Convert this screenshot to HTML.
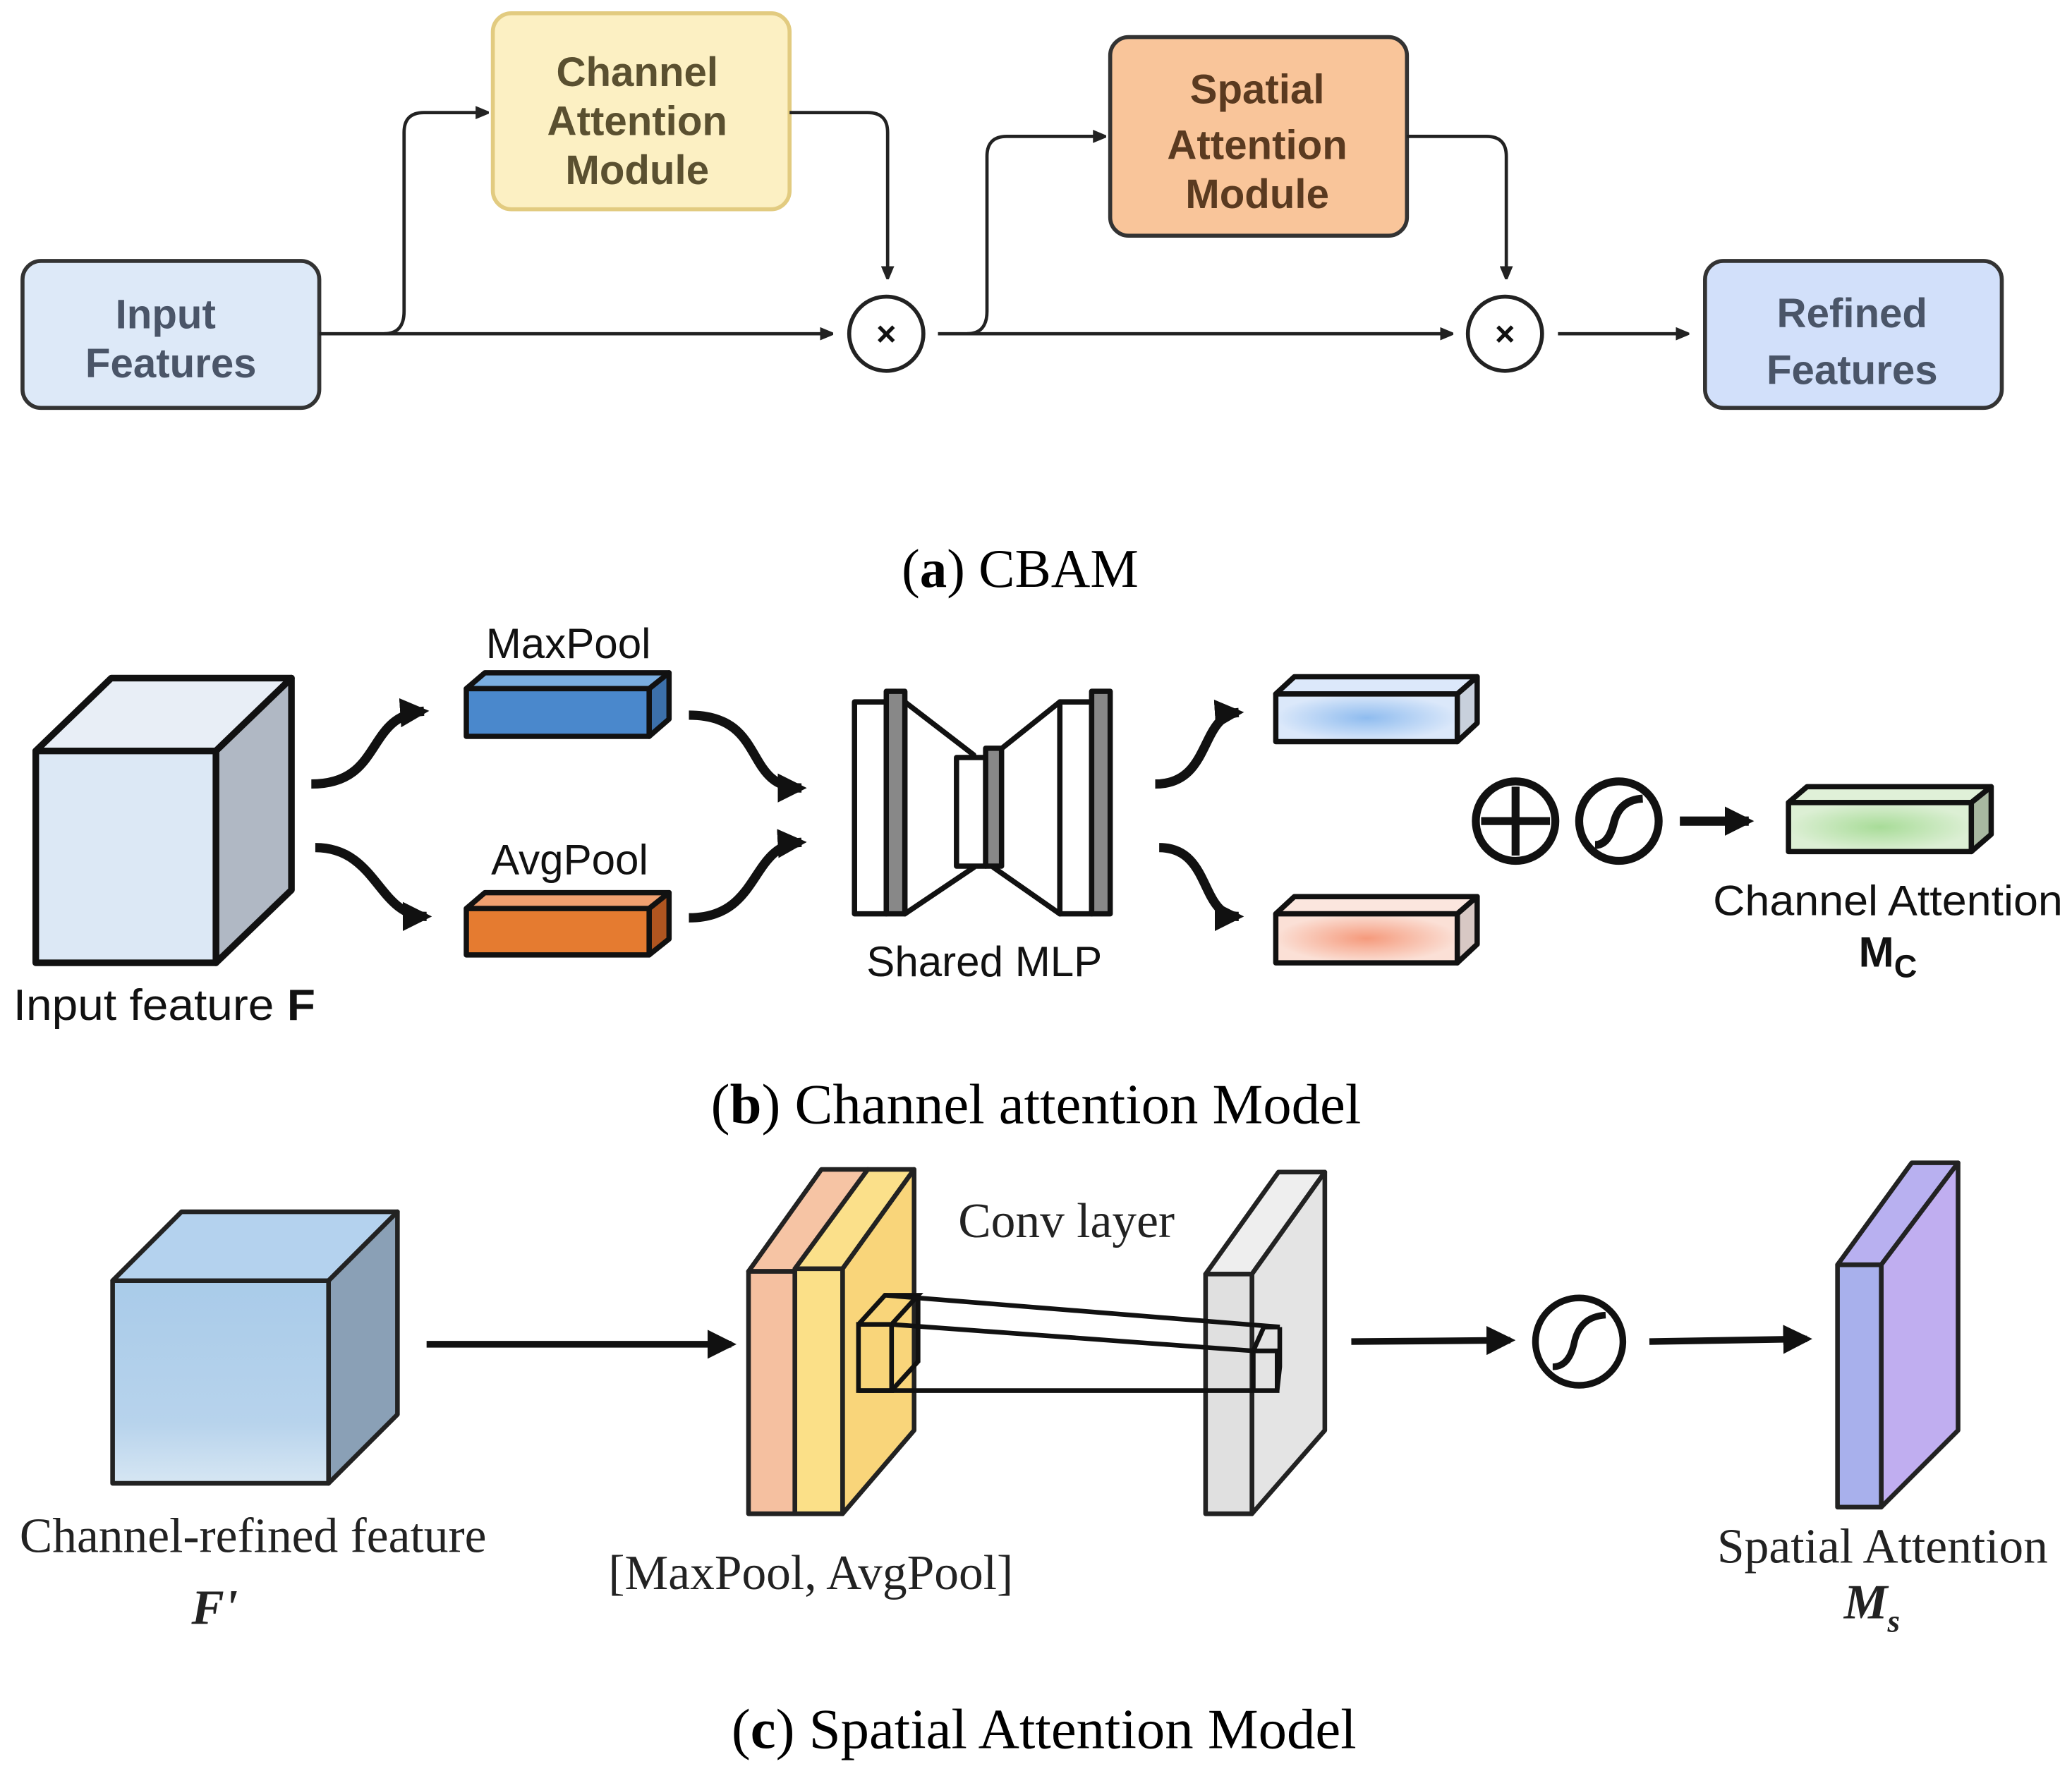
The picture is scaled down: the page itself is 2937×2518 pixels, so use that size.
<!DOCTYPE html>
<html><head><meta charset="utf-8"><style>
html,body{margin:0;padding:0;background:#fff;}
svg{display:block;}
.sans{font-family:"Liberation Sans","DejaVu Sans",sans-serif;}
.serif{font-family:"Liberation Serif","DejaVu Serif",serif;}
</style></head><body>
<svg width="2937" height="2518" viewBox="0 0 1564 1341" preserveAspectRatio="none" xmlns="http://www.w3.org/2000/svg">
<defs>
<marker id="a" markerWidth="10" markerHeight="10" refX="9" refY="5" orient="auto" markerUnits="userSpaceOnUse"><path d="M0,0 L12,5 L0,10 z" fill="#222"/></marker>
<marker id="b" markerWidth="22" markerHeight="22" refX="18" refY="11" orient="auto" markerUnits="userSpaceOnUse"><path d="M0,0 L22,11 L0,22 z" fill="#111"/></marker>
<linearGradient id="cf" x1="0" y1="0" x2="0" y2="1"><stop offset="0" stop-color="#a9cbe9"/><stop offset="0.7" stop-color="#b7d3ec"/><stop offset="1" stop-color="#d6e6f3"/></linearGradient>
<radialGradient id="lb"><stop offset="0" stop-color="#8fbcef"/><stop offset="1" stop-color="#dbe8fa"/></radialGradient>
<radialGradient id="lp"><stop offset="0" stop-color="#f59a7c"/><stop offset="1" stop-color="#fbe0d6"/></radialGradient>
<radialGradient id="lg"><stop offset="0" stop-color="#a8dc98"/><stop offset="1" stop-color="#dcefd4"/></radialGradient>
</defs>

<!-- (a) -->
<g class="sans" font-weight="bold" font-size="31" text-anchor="middle">
<rect x="17" y="197" width="224" height="111" rx="14" fill="#dde9f8" stroke="#333" stroke-width="3"/>
<text x="125" y="248" fill="#4a5568">Input</text><text x="129" y="285" fill="#4a5568">Features</text>
<rect x="372" y="10" width="224" height="148" rx="14" fill="#fcf0c3" stroke="#e2cb80" stroke-width="3"/>
<text x="481" y="65" fill="#5a5030">Channel</text><text x="481" y="102" fill="#5a5030">Attention</text><text x="481" y="139" fill="#5a5030">Module</text>
<rect x="838" y="28" width="224" height="150" rx="14" fill="#f9c59a" stroke="#333" stroke-width="3"/>
<text x="949" y="78" fill="#5a3a20">Spatial</text><text x="949" y="120" fill="#5a3a20">Attention</text><text x="949" y="157" fill="#5a3a20">Module</text>
<rect x="1287" y="197" width="224" height="111" rx="14" fill="#d2e0fa" stroke="#333" stroke-width="3"/>
<text x="1398" y="247" fill="#4a5568">Refined</text><text x="1398" y="290" fill="#4a5568">Features</text>
</g>
<g fill="none" stroke="#222" stroke-width="2.5">
<path d="M241 252 L628 252" marker-end="url(#a)"/>
<path d="M290 252 Q305 252 305 235 L305 100 Q305 85 320 85 L368 85" marker-end="url(#a)"/>
<path d="M596 85 L655 85 Q670 85 670 100 L670 210" marker-end="url(#a)"/>
<circle cx="669" cy="252" r="28" stroke-width="3"/>
<path d="M708 252 L1096 252" marker-end="url(#a)"/>
<path d="M730 252 Q745 252 745 235 L745 118 Q745 103 760 103 L834 103" marker-end="url(#a)"/>
<path d="M1062 103 L1122 103 Q1137 103 1137 118 L1137 210" marker-end="url(#a)"/>
<circle cx="1136" cy="252" r="28" stroke-width="3"/>
<path d="M1176 252 L1274 252" marker-end="url(#a)"/>
</g>
<g class="sans" font-weight="bold" font-size="26" text-anchor="middle" fill="#111"><text x="669" y="261">×</text><text x="1136" y="261">×</text></g>
<text class="serif" x="770" y="443" font-size="41" text-anchor="middle">(<tspan font-weight="bold">a</tspan>) CBAM</text>

<!-- (b) -->
<g stroke="#111" stroke-width="5" stroke-linejoin="round">
<polygon points="27,567 84,512 220,512 163,567" fill="#e8eef6"/>
<polygon points="163,567 220,512 220,672 163,727" fill="#b0b8c4"/>
<rect x="27" y="567" width="136" height="160" fill="#dce8f5"/>
</g>
<text class="sans" x="10" y="770" font-size="33" fill="#111" textLength="228" lengthAdjust="spacingAndGlyphs">Input feature <tspan font-weight="bold">F</tspan></text>

<g stroke="#111" stroke-width="4" stroke-linejoin="round">
<polygon points="352,520 366,508 505,508 490,520" fill="#7aaee0"/><polygon points="490,520 505,508 505,543 490,556" fill="#3c70aa"/><rect x="352" y="520" width="138" height="36" fill="#4a88cc"/>
<polygon points="352,686 366,674 505,674 490,686" fill="#f0a070"/><polygon points="490,686 505,674 505,709 490,721" fill="#b05520"/><rect x="352" y="686" width="138" height="35" fill="#e57b30"/>
<polygon points="963,524 977,511 1115,511 1100,524" fill="#dce8fa"/><polygon points="1100,524 1115,511 1115,546 1100,560" fill="#c8d0dc"/><rect x="963" y="524" width="137" height="36" fill="url(#lb)"/>
<polygon points="963,690 977,677 1115,677 1100,690" fill="#fbe6de"/><polygon points="1100,690 1115,677 1115,713 1100,727" fill="#d8c8c4"/><rect x="963" y="690" width="137" height="37" fill="url(#lp)"/>
<polygon points="1350,606 1364,594 1503,594 1488,606" fill="#e0f0d8"/><polygon points="1488,606 1503,594 1503,630 1488,643" fill="#a8b8a0"/><rect x="1350" y="606" width="138" height="37" fill="url(#lg)"/>
</g>
<g class="sans" font-size="32" fill="#111" text-anchor="middle">
<text x="429" y="497">MaxPool</text><text x="430" y="660">AvgPool</text><text x="743" y="737">Shared MLP</text>
<text x="1425" y="691" textLength="264" lengthAdjust="spacingAndGlyphs">Channel Attention</text>
<text x="1425" y="730" font-weight="bold">M<tspan font-size="24" dy="8">C</tspan></text>
</g>
<g fill="none" stroke="#111" stroke-width="7">
<path d="M235 592 C290 592 275 540 320 537" marker-end="url(#b)"/>
<path d="M238 640 C285 640 285 692 322 692" marker-end="url(#b)"/>
<path d="M520 540 C580 540 560 595 605 595" marker-end="url(#b)"/>
<path d="M520 693 C575 693 565 638 605 636" marker-end="url(#b)"/>
<path d="M872 592 C915 592 905 540 935 538" marker-end="url(#b)"/>
<path d="M875 640 C915 640 905 692 935 692" marker-end="url(#b)"/>
<path d="M1268 620 L1320 620" marker-end="url(#b)"/>
</g>
<g stroke="#111" stroke-width="4" stroke-linejoin="round">
<path d="M683 530 L735 570 L735 655 L683 690 Z" fill="#fff"/>
<path d="M800 530 L750 570 L750 655 L800 690 Z" fill="#fff"/>
<rect x="645" y="530" width="24" height="160" fill="#fff"/><rect x="669" y="522" width="14" height="168" fill="#888"/>
<rect x="800" y="530" width="24" height="160" fill="#fff"/><rect x="824" y="522" width="14" height="168" fill="#888"/>
<rect x="722" y="572" width="22" height="82" fill="#fff"/><rect x="744" y="565" width="12" height="89" fill="#888"/>
</g>
<g fill="none" stroke="#111" stroke-width="6">
<circle cx="1144" cy="620" r="30"/><path d="M1144 594 V646 M1118 620 H1170"/>
<circle cx="1222" cy="620" r="30"/><path d="M1204 638 Q1214 638 1218 622 Q1222 604 1240 603"/>
</g>
<text class="serif" x="782" y="848" font-size="43" text-anchor="middle">(<tspan font-weight="bold">b</tspan>) Channel attention Model</text>

<!-- (c) -->
<g stroke="#222" stroke-width="3.5" stroke-linejoin="round">
<polygon points="85,967 137,915 300,915 248,967" fill="#b4d2ee"/>
<polygon points="248,967 300,915 300,1068 248,1120" fill="#8aa0b6"/>
<rect x="85" y="967" width="163" height="153" fill="url(#cf)"/>
<polygon points="565,960 620,883 655,883 600,960" fill="#f6c4a4"/><rect x="565" y="960" width="35" height="183" fill="#f5c0a0"/>
<polygon points="600,958 655,883 690,883 636,958" fill="#fbe08a"/><polygon points="636,958 690,883 690,1080 636,1143" fill="#f9d57a"/><rect x="600" y="958" width="36" height="185" fill="#fbe088"/>
<polygon points="910,962 965,885 1000,885 945,962" fill="#eee"/><polygon points="945,962 1000,885 1000,1080 945,1143" fill="#e4e4e4"/><rect x="910" y="962" width="35" height="181" fill="#e0e0e0"/>
<polygon points="1387,955 1443,878 1478,878 1420,955" fill="#b8b0f0"/><polygon points="1420,955 1478,878 1478,1080 1420,1138" fill="#c0aef0"/><rect x="1387" y="955" width="33" height="183" fill="#a8b0ec"/>
</g>
<g fill="none" stroke="#111" stroke-width="3.5">
<rect x="648" y="1000" width="25" height="50"/><path d="M648 1000 L668 978 L693 978 L673 1000 M693 978 V1028 L673 1050"/>
<rect x="946" y="1020" width="18" height="30"/><path d="M946 1020 L954 1002 L966 1002 M966 1002 V1032 L964 1050"/>
<path d="M668 978 L966 1002 M673 1000 L946 1020 M648 1050 L946 1050"/>
</g>
<g fill="none" stroke="#111" stroke-width="5">
<path d="M322 1015 L552 1015" marker-end="url(#b)"/>
<path d="M1020 1013 L1140 1012" marker-end="url(#b)"/>
<path d="M1245 1013 L1364 1011" marker-end="url(#b)"/>
<circle cx="1192" cy="1013" r="33"/><path d="M1172 1032 Q1184 1032 1188 1015 Q1192 994 1212 993"/>
</g>
<g class="serif" font-size="37" fill="#222" text-anchor="middle">
<text x="805" y="934">Conv layer</text>
<text x="191" y="1172">Channel-refined feature</text>
<text x="612" y="1200">[MaxPool, AvgPool]</text>
<text x="1421" y="1180">Spatial Attention</text>
<text x="162" y="1226" font-weight="bold" font-style="italic">F'</text>
<text x="1413" y="1222" font-weight="bold" font-style="italic">M<tspan font-size="24" dy="10">s</tspan></text>
</g>
<text class="serif" x="788" y="1320" font-size="43" text-anchor="middle">(<tspan font-weight="bold">c</tspan>) Spatial Attention Model</text>
</svg>
</body></html>
